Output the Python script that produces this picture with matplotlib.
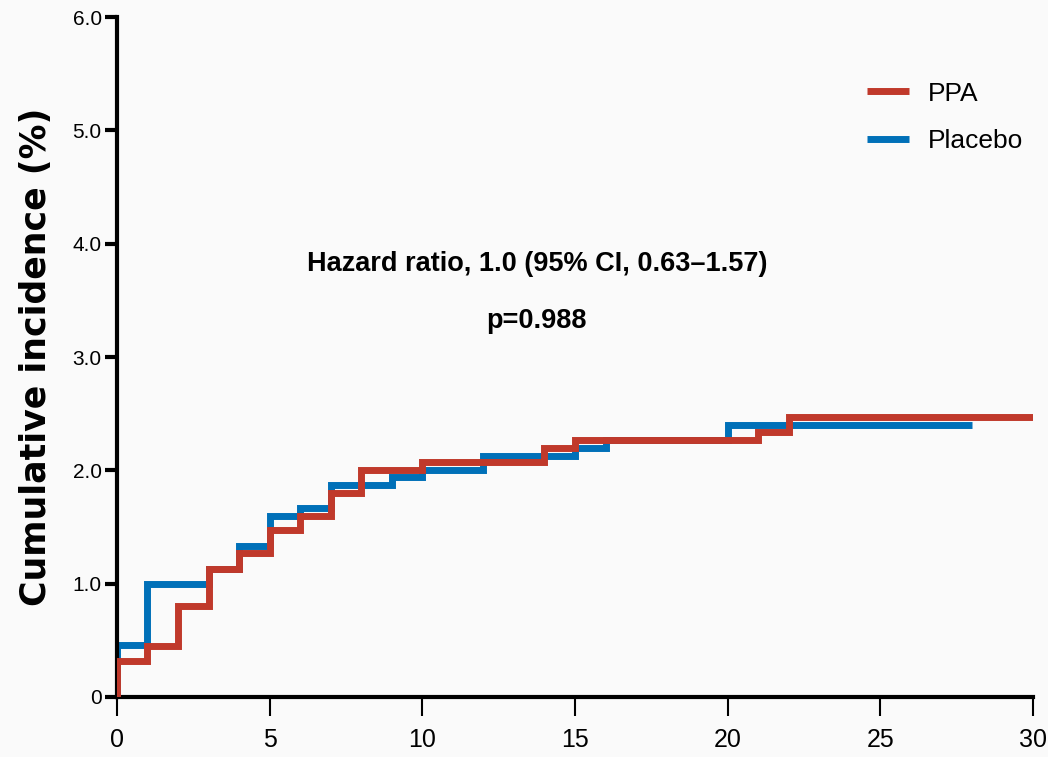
import matplotlib.pyplot as plt

# months, cumulative incidence (%)
ppa_time = [0, 0, 1, 2, 3, 4, 5, 6, 7, 8, 10, 14, 15, 21, 22, 30]
ppa_inc = [0, 0.32, 0.45, 0.80, 1.13, 1.27, 1.47, 1.60, 1.80, 2.00, 2.07, 2.20, 2.27, 2.34, 2.47, 2.47]

placebo_time = [0, 0, 1, 3, 4, 5, 6, 7, 9, 10, 12, 15, 16, 20, 28]
placebo_inc = [0, 0.46, 1.00, 1.13, 1.33, 1.60, 1.67, 1.87, 1.94, 2.00, 2.13, 2.20, 2.27, 2.40, 2.40]

x_ticks = [0, 5, 10, 15, 20, 25, 30]
y_ticks = [0, 1, 2, 3, 4, 5, 6]
y_labels = ['0', '1.0', '2.0', '3.0', '4.0', '5.0', '6.0']

red = '#c0392b'
blue = '#0070b8'
narrow = 'Liberation Sans'

fig = plt.figure(figsize=(10.48, 7.57), dpi=100, facecolor='#fafafa')
ax = fig.add_axes([0.1116, 0.0793, 0.8741, 0.8982])
ax.set_facecolor('#fafafa')

ax.step(placebo_time, placebo_inc, where='post', color=blue, lw=5, label='Placebo',
        solid_joinstyle='miter', solid_capstyle='butt', zorder=2)
ax.step(ppa_time, ppa_inc, where='post', color=red, lw=5, label='PPA',
        solid_joinstyle='miter', solid_capstyle='butt', zorder=3)

ax.set_xlim(0, 30)
ax.set_ylim(0, 6)
for s in ['top', 'right']:
    ax.spines[s].set_visible(False)
for s in ['left', 'bottom']:
    ax.spines[s].set_linewidth(3)
ax.spines['bottom'].set_capstyle('projecting')

ax.set_xticks(x_ticks)
ax.set_yticks(y_ticks)
ax.set_yticklabels(y_labels)
ax.tick_params(axis='x', direction='out', length=14, width=1.5, pad=8, labelsize=18)
ax.tick_params(axis='y', direction='out', length=9, width=3, pad=2, labelsize=15)
for lab in ax.get_xticklabels() + ax.get_yticklabels():
    lab.set_family(narrow)

ax.set_ylabel('Cumulative incidence (%)', fontsize=25, fontweight='bold', labelpad=14)

ax.text(13.75, 3.82, 'Hazard ratio, 1.0 (95% CI, 0.63\u20131.57)', ha='center', va='center',
        fontsize=19.5, fontweight='bold', family=narrow)
ax.text(13.75, 3.32, 'p=0.988', ha='center', va='center',
        fontsize=19.5, fontweight='bold', family=narrow)

h, l = ax.get_legend_handles_labels()
leg = ax.legend(h[::-1], l[::-1], loc='upper right', bbox_to_anchor=(1.015, 0.94), frameon=False,
                prop={'family': narrow, 'size': 19}, handlelength=1.6, handletextpad=0.7,
                labelspacing=0.9)

fig.savefig('out.png', dpi=100, facecolor=fig.get_facecolor())
